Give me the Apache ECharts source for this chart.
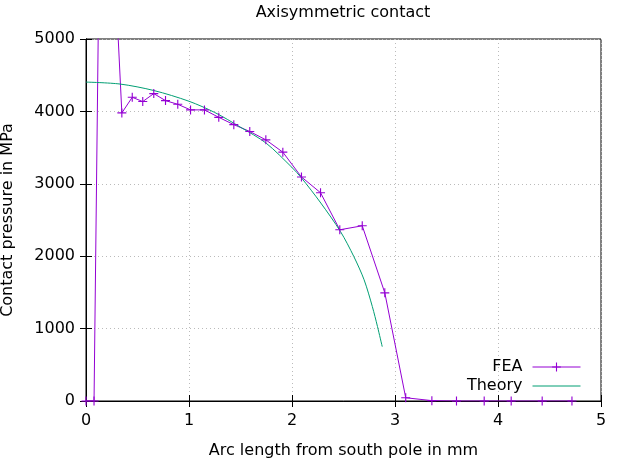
<!DOCTYPE html>
<html>
<head>
    <meta charset="UTF-8">
    <title>Axisymmetric contact</title>
    <script src="https://cdn.jsdelivr.net/npm/echarts@6/dist/echarts.min.js"></script>
    <style>
        html, body { margin: 0; padding: 0; background: #fff; }
        #main { width: 633px; height: 468px; }
    </style>
</head>
<body>
<div id="main"></div>
<script>
    // FEA result (arc length in mm, pressure in MPa)
    var feaX = [0, 0.078, 0.155, 0.348, 0.449, 0.551, 0.658, 0.772, 0.891, 1.015, 1.150, 1.289, 1.435, 1.590,
        1.746, 1.911, 2.092, 2.277, 2.464, 2.682, 2.901, 3.104, 3.358, 3.597, 3.866, 4.128, 4.429, 4.718];
    var feaY = [0, 0, 9600, 3979, 4195, 4136, 4246, 4149, 4098, 4021, 4021, 3918, 3817, 3723,
        3607, 3437, 3094, 2877, 2365, 2420, 1494, 45, 5, 0, 0, 0, 0, 0];

    // theoretical curve
    var theoryX = [0, 0.33, 0.66, 1.0, 1.25, 1.5, 1.75, 2.0, 2.09, 2.28, 2.47, 2.6, 2.7, 2.78, 2.83, 2.876];
    var theoryY = [4405, 4378, 4288, 4140, 3985, 3782, 3560, 3225, 3085, 2734, 2342, 1996, 1674, 1304, 1028, 751];

    var xTicks = ['0', '1', '2', '3', '4', '5'];
    var yTicks = ['0', '1000', '2000', '3000', '4000', '5000'];

    function pairs(xs, ys) {
        var out = [];
        for (var i = 0; i < xs.length; i++) {
            out.push([xs[i], ys[i]]);
        }
        return out;
    }

    var FONT = 'DejaVu Sans';
    var plus = 'path://M-0.5,-4H0.5V-0.5H4V0.5H0.5V4H-0.5V0.5H-4V-0.5H-0.5Z';

    var myChart = echarts.init(document.getElementById('main'));
    var option = {
        animation: false,
        title: {
            text: 'Axisymmetric contact',
            left: 343,
            top: 5,
            padding: 0,
            textAlign: 'center',
            textStyle: { fontFamily: FONT, fontSize: 16, fontWeight: 'normal', color: '#000' }
        },
        legend: {
            orient: 'vertical',
            right: 52,
            top: 359,
            padding: 0,
            align: 'right',
            itemWidth: 48,
            itemHeight: 11,
            itemGap: 3,
            lineStyle: { width: 1 },
            textStyle: { fontFamily: FONT, fontSize: 16, color: '#000', padding: [0, 5, 0, 0] },
            data: ['FEA', { name: 'Theory', itemStyle: { opacity: 0 } }]
        },
        grid: {
            left: 86,
            right: 32,
            top: 39,
            bottom: 67,
            outerBoundsMode: 'none',
            containLabel: false,
            show: true,
            borderColor: '#000',
            borderWidth: 1
        },
        xAxis: [{
            type: 'value',
            min: 0,
            max: 5,
            interval: 1,
            name: 'Arc length from south pole in mm',
            nameLocation: 'middle',
            nameGap: 42,
            nameTextStyle: { fontFamily: FONT, fontSize: 16, color: '#000' },
            axisLine: { lineStyle: { color: '#000' } },
            axisTick: { inside: true, length: 6, lineStyle: { color: '#000' } },
            axisLabel: {
                margin: 12, fontFamily: FONT, fontSize: 16, color: '#000',
                formatter: function (v) { return xTicks[Math.round(v)]; }
            },
            splitLine: { show: true, lineStyle: { color: '#bbb', type: [1, 3] } }
        }, {
            type: 'value',
            position: 'top',
            min: 0,
            max: 5,
            interval: 1,
            axisLine: { lineStyle: { color: '#000' } },
            axisTick: { inside: true, length: 6, lineStyle: { color: '#000' } },
            axisLabel: { show: false },
            splitLine: { show: false }
        }],
        yAxis: [{
            type: 'value',
            min: 0,
            max: 5000,
            interval: 1000,
            name: 'Contact pressure in MPa',
            nameLocation: 'middle',
            nameGap: 70,
            nameTextStyle: { fontFamily: FONT, fontSize: 16, color: '#000' },
            axisLine: { show: true, lineStyle: { color: '#000' } },
            axisTick: { show: true, inside: true, length: 6, lineStyle: { color: '#000' } },
            axisLabel: {
                margin: 11, fontFamily: FONT, fontSize: 16, color: '#000',
                formatter: function (v) { return yTicks[Math.round(v / 1000)]; }
            },
            splitLine: { show: true, lineStyle: { color: '#bbb', type: [1, 3] } }
        }, {
            type: 'value',
            position: 'right',
            min: 0,
            max: 5000,
            interval: 1000,
            axisLine: { show: true, lineStyle: { color: '#000' } },
            axisTick: { show: true, inside: true, length: 6, lineStyle: { color: '#000' } },
            axisLabel: { show: false },
            splitLine: { show: false }
        }],
        series: [{
            name: 'FEA',
            type: 'line',
            data: pairs(feaX, feaY),
            symbol: plus,
            symbolSize: 9,
            showAllSymbol: true,
            clip: true,
            itemStyle: { color: '#9400d3' },
            lineStyle: { color: '#9400d3', width: 1 }
        }, {
            name: 'Theory',
            type: 'line',
            data: pairs(theoryX, theoryY),
            smooth: 0.3,
            showSymbol: false,
            clip: true,
            itemStyle: { color: '#009e73' },
            lineStyle: { color: '#009e73', width: 1 }
        }]
    };
    myChart.setOption(option);
</script>
</body>
</html>
